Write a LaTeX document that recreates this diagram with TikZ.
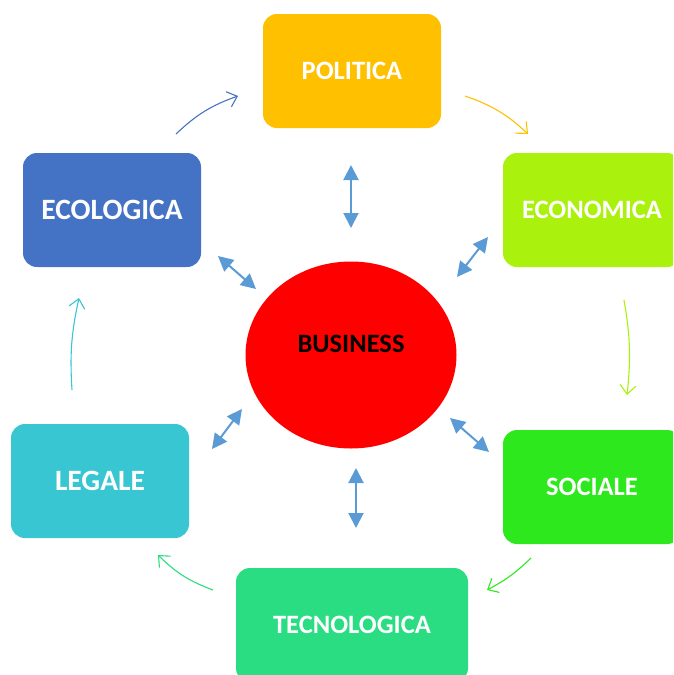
\documentclass[tikz,border=0pt]{standalone}
\usepackage{fontspec}
\setmainfont{Carlito}
\usetikzlibrary{arrows.meta,positioning,shapes.geometric}
\definecolor{polcol}{HTML}{FFC000}
\definecolor{econcol}{HTML}{AAF20E}
\definecolor{soccol}{HTML}{2EE81E}
\definecolor{teccol}{HTML}{2ADC82}
\definecolor{legcol}{HTML}{38C6D2}
\definecolor{ecolcol}{HTML}{4472C4}
\definecolor{linkcol}{HTML}{5B9BD5}

\begin{document}
\begin{tikzpicture}[x=1pt, y=-1pt,
  area/.style={rounded corners=14pt, minimum width=178pt, minimum height=114pt,
    text=white, font=\bfseries\fontsize{26.5}{30}\selectfont},
  bigtext/.style={font=\bfseries\fontsize{29.5}{33}\selectfont},
  cycle/.style={line width=1.1pt, -{Straight Barb[length=9pt,width=16pt]}},
  link/.style={linkcol, line width=2pt, {Triangle[length=15pt,width=15pt]}-{Triangle[length=15pt,width=15pt]}}]
\useasboundingbox (0,0) rectangle (673,675);
\clip (0,0) rectangle (673,675);
% the six areas
\node[area, fill=polcol] (pol) at (352,71) {POLITICA};%%
\node[area, fill=econcol] (econ) at (592,210) {ECONOMICA};%%
\node[area, fill=soccol] (soc) at (592,487) {SOCIALE};%%
\node[area, fill=teccol, minimum width=232pt] (tec) at (352,625) {TECNOLOGICA};%%
\node[area, bigtext, fill=legcol] (leg) at (100,481) {LEGALE};%%
\node[area, bigtext, fill=ecolcol] (ecol) at (112,210) {ECOLOGICA};%%
% centre
\node[ellipse, fill=red, minimum width=211pt, minimum height=187pt,
  label={[font=\bfseries\fontsize{26.5}{30}\selectfont, yshift=11pt]center:BUSINESS}] (bus) at (351,355) {};%%
% ends of the links
\coordinate (l1a) at (351,165); \coordinate (l1b) at (351,228);
\coordinate (l2a) at (488,237); \coordinate (l2b) at (457,277);
\coordinate (l3a) at (450,418); \coordinate (l3b) at (489,452);
\coordinate (l4a) at (356,468); \coordinate (l4b) at (356,528);
\coordinate (l5a) at (242,409); \coordinate (l5b) at (212,449);
\coordinate (l6a) at (218,256); \coordinate (l6b) at (256,289);
\draw[link] (l1a) -- (l1b);%%
\draw[link] (l2a) -- (l2b);%%
\draw[link] (l3a) -- (l3b);%%
\draw[link] (l4a) -- (l4b);%%
\draw[link] (l5a) -- (l5b);%%
\draw[link] (l6a) -- (l6b);%%
% ends of the cycle arrows
\coordinate (c1a) at (176,134); \coordinate (c1b) at (238,96);
\coordinate (c2a) at (465,96); \coordinate (c2b) at (528,134);
\coordinate (c3a) at (624,300); \coordinate (c3b) at (627,395);
\coordinate (c4a) at (531,558); \coordinate (c4b) at (487,590);
\coordinate (c5a) at (213,590); \coordinate (c5b) at (158,555);
\coordinate (c6a) at (72,390); \coordinate (c6b) at (79,298);
\draw[cycle, ecolcol] (c1a) to[bend left=12] (c1b);%%
\draw[cycle, polcol] (c2a) to[bend left=12] (c2b);%%
\draw[cycle, econcol] (c3a) to[bend left=8] (c3b);%%
\draw[cycle, soccol] (c4a) to[bend left=8] (c4b);%%
\draw[cycle, teccol] (c5a) to[bend left=12] (c5b);%%
\draw[cycle, legcol] (c6a) to[bend left=8] (c6b);%%
\end{tikzpicture}
\end{document}
